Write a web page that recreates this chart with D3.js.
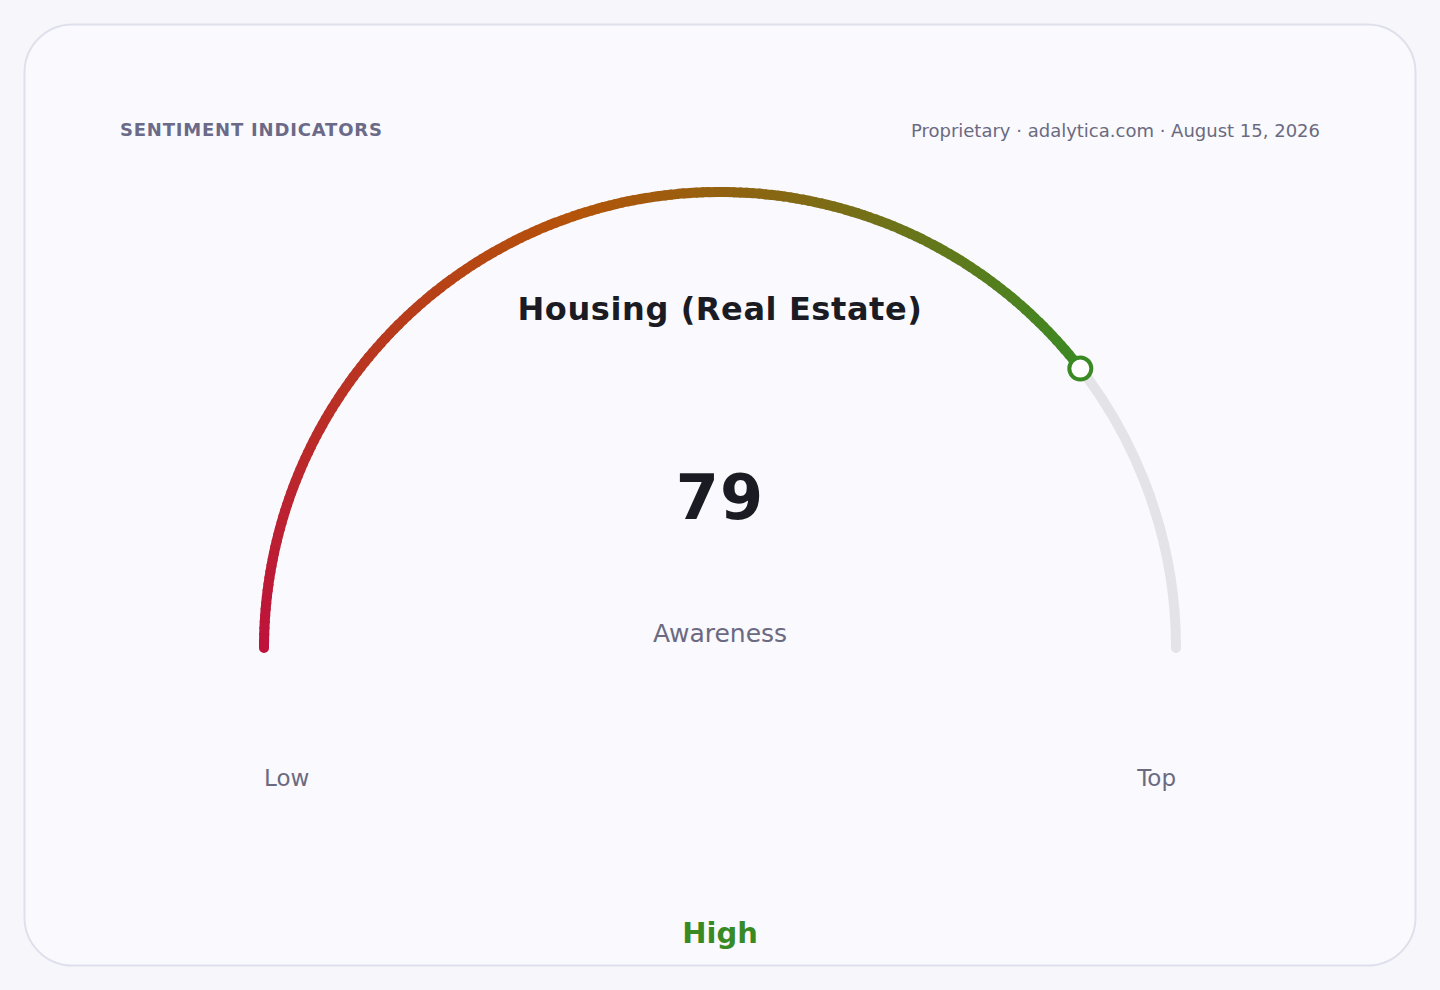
<!DOCTYPE html>
<html>
<head>
<meta charset="utf-8">
<script src="https://cdn.jsdelivr.net/npm/d3@7"></script>
<style>
  html, body { margin: 0; padding: 0; background: #f7f7fb; }
  svg { display: block; font-family: "DejaVu Sans", sans-serif; }
</style>
</head>
<body>
<div id="hook-gauge"></div>
<script>
'use strict';

var title = 'Housing (Real Estate)';
var header = 'SENTIMENT INDICATORS';
var source = 'Proprietary · adalytica.com · August 15, 2026';
var metric = 'Awareness';
var domain = [0, 100];
var value = [79];
var endLabels = ['Low', 'Top'];
var bandLabel = ['High'];
var gradStops = ['#be123c', '#b45309', '#3a8a24'];

var width = 1440, height = 990;
var cx = 720, cy = 648, radius = 456;

var svg = d3.select('#hook-gauge')
  .append('svg')
  .attr('width', width)
  .attr('height', height);

svg.append('rect')
  .attr('x', 24.5).attr('y', 24.5)
  .attr('width', 1391).attr('height', 941)
  .attr('rx', 48).attr('ry', 48)
  .style('fill', '#f9f9fe')
  .style('stroke', '#e0e0ec')
  .style('stroke-width', 2);

svg.append('text')
  .attr('x', 120).attr('y', 136)
  .style('font-size', '18px')
  .style('font-weight', 'bold')
  .style('letter-spacing', '0.8px')
  .style('fill', '#6b6a88')
  .text(header);

svg.append('text')
  .attr('x', 1320).attr('y', 137)
  .attr('text-anchor', 'end')
  .style('font-size', '18px')
  .style('fill', '#6b6a80')
  .text(source);

// value -> svg angle (left = PI, right = 2PI going over the top)
var angle = d3.scaleLinear().domain(domain).range([Math.PI, 2 * Math.PI]);
var color = d3.scaleLinear()
  .domain([0, 0.5, 1])
  .range(gradStops)
  .interpolate(d3.interpolateRgb);

var g = svg.append('g').attr('transform', 'translate(' + cx + ',' + cy + ')');

function arcPath(v0, v1) {
  var p = d3.path();
  var a0 = angle(v0), a1 = angle(v1);
  p.moveTo(radius * Math.cos(a0), radius * Math.sin(a0));
  p.arc(0, 0, radius, a0, a1);
  return p.toString();
}

// track
g.append('path')
  .attr('d', arcPath(domain[0], domain[1]))
  .style('fill', 'none')
  .style('stroke', '#e4e4e8')
  .style('stroke-width', 10)
  .style('stroke-linecap', 'round');

var v = value[0];

// round start cap
g.append('path')
  .attr('d', arcPath(domain[0], domain[0] + 0.2))
  .style('fill', 'none')
  .style('stroke', color(0))
  .style('stroke-width', 10)
  .style('stroke-linecap', 'round');

// value arc drawn as small coloured pieces
var steps = 180;
var pieces = d3.range(steps).map(function(i) {
  return { a: domain[0] + (v - domain[0]) * i / steps,
           b: domain[0] + (v - domain[0]) * (i + 1) / steps,
           t: (i + 0.5) / steps };
});

g.selectAll('path.piece')
  .data(pieces)
  .enter().append('path')
  .attr('class', 'piece')
  .attr('d', function(d) { return arcPath(d.a, Math.min(v, d.b + 0.15)); })
  .style('fill', 'none')
  .style('stroke', function(d) { return color(d.t); })
  .style('stroke-width', 10);

var a = angle(v);
g.append('circle')
  .attr('cx', radius * Math.cos(a))
  .attr('cy', radius * Math.sin(a))
  .attr('r', 11)
  .style('fill', '#ffffff')
  .style('stroke', color(1))
  .style('stroke-width', 4);

svg.append('text')
  .attr('x', cx).attr('y', 320)
  .attr('text-anchor', 'middle')
  .style('font-size', '32px')
  .style('font-weight', 'bold')
  .style('letter-spacing', '0.6px')
  .style('fill', '#1b1b24')
  .text(title);

svg.append('text')
  .attr('x', cx).attr('y', 519)
  .attr('text-anchor', 'middle')
  .style('font-size', '62px')
  .style('font-weight', 'bold')
  .style('letter-spacing', '1px')
  .style('fill', '#1b1b24')
  .text(v);

svg.append('text')
  .attr('x', cx).attr('y', 642)
  .attr('text-anchor', 'middle')
  .style('font-size', '25px')
  .style('fill', '#6b6a80')
  .text(metric);

svg.append('text')
  .attr('x', cx - radius).attr('y', 786)
  .style('font-size', '23px')
  .style('fill', '#6b6a80')
  .text(endLabels[0]);

svg.append('text')
  .attr('x', cx + radius).attr('y', 786)
  .attr('text-anchor', 'end')
  .style('font-size', '23px')
  .style('fill', '#6b6a80')
  .text(endLabels[1]);

svg.append('text')
  .attr('x', cx).attr('y', 943)
  .attr('text-anchor', 'middle')
  .style('font-size', '29px')
  .style('font-weight', 'bold')
  .style('fill', '#3a8a24')
  .text(bandLabel[0]);
</script>
</body>
</html>
